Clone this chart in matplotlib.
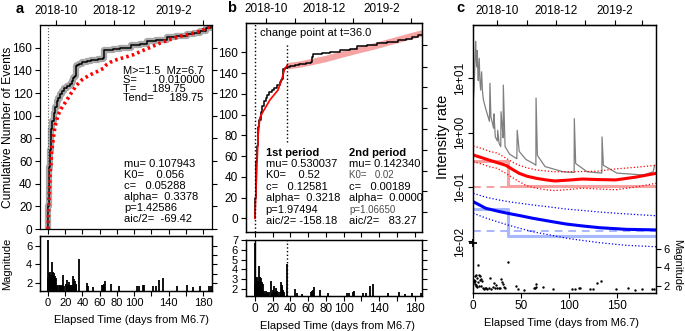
import matplotlib
matplotlib.use("Agg")
import matplotlib.pyplot as plt

plt.rcParams['font.family'] = ['Liberation Sans', 'DejaVu Sans']

W, H = 685, 331

# cumulative number of events (days from M6.7, count)
cum_days = [0, 0.3, 0.7, 1.2, 2.0, 3.0, 4.0, 5.0, 6.5, 8.0, 10, 12, 14, 16, 19, 22, 25, 28, 29.5, 30.5,
            31.5, 32.0, 34, 36, 40, 45, 50, 58, 63.5, 64.5, 65.5, 75, 84, 96, 107, 115, 126, 138, 149, 161,
            170, 177, 184, 189.75]
cum_counts = [0, 20, 38, 55, 70, 80, 88, 95, 102, 108, 113, 116, 119, 122, 124, 126, 128, 131, 133, 134,
              135, 144, 145, 146, 147, 148, 149, 150, 151, 155, 158, 159, 160, 162, 163, 166, 167, 169, 170, 172,
              173, 175, 177, 179]

# panel a: red dotted model curve
red_a_days = [0, 1, 2.3, 4.2, 6.2, 8, 10, 12, 16, 21.7, 27, 33.3, 40, 48.8, 56, 64.3, 68, 72, 80, 91.4,
              100, 106.8, 118, 130, 141, 153, 165, 176.5, 189.75]
red_a_counts = [0, 25, 46, 69, 80, 90, 96, 101, 107, 113.6, 120, 127, 132, 136, 138.5, 141.7, 145, 147, 149.5, 152,
                154, 156.4, 160, 164, 167, 170, 172, 174.5, 179]

# panel b: two-period fits
fit1_days = [0, 1.9, 3.7, 5.6, 9.3, 16.8, 26, 29.9, 33.6, 36]
fit1_counts = [0, 43, 81, 97, 103, 114, 123.6, 133, 144, 147]
fit2_days = [36, 50, 64, 80, 97, 115, 134, 153, 170, 189.75]
fit2_counts = [146.5, 148, 150.5, 153.5, 157.5, 161.5, 165.5, 170, 174, 178.5]
change_day = 36.0

# events: elapsed days and magnitudes
eq_days = [0, 0.3, 0.6, 1.0, 1.3, 1.7, 2.0, 2.4, 2.8, 3.2, 3.6, 4.0, 4.5, 5.0, 5.5, 6.0, 6.6, 7.2, 7.8, 8.5,
           9.3, 10.0, 11.0, 12.2, 13.5, 14.8, 16.0, 17.8, 19.0, 20.5, 21.7, 23.0, 24.0, 25.2, 26.5, 28.0, 29.4,
           30.3, 31.0, 32.0, 33.0, 36.0, 45.0, 47.0, 52.6, 63.0, 64.3, 65.2, 66.0, 73.2, 82.8, 103.7, 106.0,
           110.7, 112.0, 121.6, 125.4, 129.3, 133.0, 149.4, 161.8, 168.8, 176.5, 187.0, 189.0]
eq_mags = [6.7, 2.5, 2.4, 2.6, 3.1, 2.2, 2.5, 2.0, 3.2, 2.1, 2.8, 1.9, 2.4, 4.3, 2.0, 3.2, 2.6, 3.1, 2.0, 2.7,
           2.5, 1.8, 1.6, 1.8, 1.7, 1.6, 1.7, 2.8, 1.6, 1.9, 2.3, 1.7, 2.1, 1.8, 1.7, 1.7, 2.7,
           2.4, 2.2, 1.9, 1.7, 4.6, 2.0, 1.6, 1.5, 1.7, 1.8, 1.9, 2.2, 1.9, 1.6, 1.6, 1.6,
           1.7, 1.8, 1.6, 1.6, 2.3, 2.5, 1.6, 1.7, 1.5, 1.6, 1.6, 1.6]

# panel c: intensity rates
gray_days = [0.3, 1.0, 2.4, 3.0, 3.5, 4.2, 4.7, 5.2, 6.2, 6.9, 7.7, 8.7, 9.5, 10.5, 13.3, 16.9, 17.4, 18.4,
             21.2, 21.6, 23.0, 25.2, 25.5, 27.0, 28.7, 29.0, 30.4, 31.2, 31.4, 33.2, 38.0, 45.5, 45.9, 48.0,
             55.0, 62.9, 65.4, 65.6, 67.0, 75.0, 94.0, 105.4, 105.6, 107.0, 119.0, 134.4, 134.6, 136.0,
             150.0, 178.0, 188.0, 189.7]
gray_rates = [4.5, 8, 47, 25, 16, 32, 14, 9, 23, 9, 6, 13, 6, 4, 2.6, 1.6, 8, 1.95,
              1.2, 2.2, 0.83, 0.7, 1.1, 0.63, 0.55, 2.4, 1.2, 0.8, 7.4, 0.55, 0.4, 0.33, 1.1, 0.45,
              0.32, 0.27, 0.25, 4.3, 0.38, 0.237, 0.19, 0.185, 1.8, 0.27, 0.19, 0.18, 0.83, 0.25,
              0.18, 0.166, 0.19, 0.25]
red_c_days = [0, 10, 17, 25, 34, 42, 48, 56, 66, 76, 85, 100, 114, 130, 149, 170, 191]
red_c_mid = [0.386, 0.34, 0.31, 0.28, 0.25, 0.205, 0.178, 0.158, 0.144, 0.135, 0.129, 0.134, 0.14, 0.137,
             0.135, 0.152, 0.178]
red_c_up = [0.565, 0.5, 0.45, 0.42, 0.34, 0.28, 0.25, 0.225, 0.205, 0.197, 0.19, 0.19, 0.192, 0.195,
            0.215, 0.23, 0.25]
red_c_lo = [0.29, 0.26, 0.235, 0.22, 0.178, 0.145, 0.125, 0.105, 0.095, 0.089, 0.086, 0.09, 0.095, 0.092,
            0.089, 0.1, 0.117]
blue_days = [0, 13, 27, 36, 50, 62, 80, 97, 115, 132, 160, 191]
blue_mid = [0.0537, 0.0407, 0.0355, 0.0329, 0.0295, 0.0267, 0.0235, 0.0209, 0.0192, 0.0179, 0.0167, 0.0163]
blue_up = [0.0766, 0.065, 0.0577, 0.054, 0.05, 0.0468, 0.043, 0.0394, 0.037, 0.0347, 0.032, 0.0297]
blue_lo = [0.0329, 0.027, 0.0225, 0.0201, 0.0172, 0.0151, 0.0132, 0.0115, 0.0104, 0.0095, 0.0085, 0.008]
period_edges = [0, 36, 191]
red_period = [0.304, 0.105]
blue_period = [0.0394, 0.0128]
red_const = 0.101
blue_const = 0.0156

# date axis on top
top_ticks_a = [9.3, 43.0, 77.0, 111.8, 146.3, 180.4]
top_ticks_b = [12.3, 44.8, 78.4, 110.9, 143.3, 175.8]
top_ticks_c = [25, 56, 86, 117, 148, 176]
top_labels = ["2018-10", "", "2018-12", "", "2019-2", ""]
right_ticks_b = [6, 26, 46, 66, 86, 106, 127, 146, 167]
day_ticks = list(range(0, 181, 20))
day_labels = ["0", "20", "40", "60", "80", "100", "", "140", "", "180"]

stats_a1 = ["M>=1.5  Mz=6.7", "S=       0.010000", "T=     189.75", "Tend=     189.75"]
stats_a2 = ["mu= 0.107943", "K0=    0.056", "c=   0.05288", "alpha=  0.3378", "p=1.42586", "aic/2=  -69.42"]
stats_b1 = ["mu= 0.530037", "K0=    0.52", "c=   0.12581", "alpha=  0.3218", "p=1.97494", "aic/2= -158.18"]
stats_b2 = ["mu= 0.142340", "K0=   0.02", "c=   0.00189", "alpha=  0.0000", "p=1.06650", "aic/2=   83.27"]

fig = plt.figure(figsize=(W / 100, H / 100), dpi=100)


def px_axes(l, t, r, b):
    return fig.add_axes([l / W, 1 - b / H, (r - l) / W, (b - t) / H])


def ptext(x, y, s, **kw):
    kw.setdefault("va", "center")
    kw.setdefault("ha", "left")
    kw.setdefault("fontsize", 8)
    fig.text(x / W, 1 - y / H, s, **kw)


def style(ax):
    ax.tick_params(direction="out", length=3.5, width=0.8, labelsize=8.5, pad=2)
    for sp in ax.spines.values():
        sp.set_linewidth(0.9)


def top_axis(ax, ticks):
    sec = ax.secondary_xaxis("top")
    sec.set_xticks(ticks, labels=top_labels)
    sec.tick_params(direction="out", length=3.5, width=0.8, labelsize=8.5, pad=2)


# ---------- panel a ----------
axa = px_axes(40, 25, 212, 229)
style(axa)
axa.set_xlim(-9.3, 190.5)
axa.set_ylim(0, 180)
axa.plot(cum_days, cum_counts, color="0.6", lw=4.5, alpha=0.85, drawstyle="steps-post", solid_capstyle="butt")
axa.plot(cum_days, cum_counts, color="black", lw=1.1, drawstyle="steps-post")
axa.plot(red_a_days, red_a_counts, color="red", lw=2.6, ls=(0, (0.7, 0.9)))
axa.axvline(0, color="0.35", ls=":", lw=0.8)
axa.set_yticks(range(0, 161, 20))
axa.set_xticks(day_ticks)
axa.tick_params(labelbottom=False, right=True)
top_axis(axa, top_ticks_a)

axam = px_axes(40, 236, 212, 290.7)
style(axam)
axam.set_xlim(-9.3, 190.5)
axam.set_ylim(1.13, 7.09)
axam.vlines(eq_days, 1.13, eq_mags, color="black", lw=1.3)
axam.set_yticks([2, 4, 6])
axam.set_xticks(day_ticks, labels=day_labels)
axam.tick_params(labelsize=8)
ra = axam.twinx()
style(ra)
ra.set_ylim(1.13, 7.09)
ra.set_yticks([2, 3, 4, 5, 6], labels=[])

ptext(20, 9, "a", fontsize=10.5, fontweight="bold", ha="center")
ptext(8, 127, "Cumulative Number of Events", rotation=90, ha="center", fontsize=8.7)
ptext(7, 264, "Magnitude", rotation=90, ha="center", fontsize=8)
ptext(131.7, 320, "Elapsed Time (days from M6.7)", ha="center", fontsize=8)
for i, s in enumerate(stats_a1):
    ptext(122.7, 70.7 + 9.1 * i, s)
for i, s in enumerate(stats_a2):
    ptext(124, 164 + 11 * i, s)

# ---------- panel b ----------
axb = px_axes(245.7, 22.7, 422.3, 232.3)
style(axb)
axb.set_xlim(-10.4, 188.5)
axb.set_ylim(-13.5, 188.5)
axb.plot(fit2_days, fit2_counts, color="#f6a3a3", lw=4.5, solid_capstyle="butt")
axb.plot(cum_days, cum_counts, color="black", lw=1.1, drawstyle="steps-post")
axb.plot(fit1_days, fit1_counts, color="red", lw=1.2)
axb.axvline(0, color="black", ls=":", lw=1.0)
axb.vlines(change_day, 74, 169, color="black", ls=":", lw=1.0)
axb.set_yticks(range(0, 161, 20))
axb.set_xticks(day_ticks, labels=[])
top_axis(axb, top_ticks_b)
rb = axb.twinx()
style(rb)
rb.set_ylim(-13.5, 188.5)
rb.set_yticks(right_ticks_b, labels=[])

axbm = px_axes(245.7, 240, 422.3, 295.7)
style(axbm)
axbm.set_xlim(-10.4, 188.5)
axbm.set_ylim(1.32, 7.0)
axbm.vlines(eq_days, 1.32, eq_mags, color="black", lw=1.3)
axbm.axvline(0, color="black", lw=1.0)
axbm.axvline(change_day, color="black", ls=":", lw=1.0)
axbm.set_yticks(range(2, 8))
axbm.set_xticks(day_ticks, labels=day_labels)
axbm.tick_params(axis="y", labelsize=8)
rbm = axbm.twinx()
style(rbm)
rbm.set_ylim(1.32, 7.0)
rbm.set_yticks(range(2, 8), labels=[])

ptext(232, 8, "b", fontsize=10.5, fontweight="bold", ha="center")
ptext(338, 325.7, "Elapsed Time (days from M6.7)", ha="center", fontsize=8)
ptext(260, 33.3, "change point at t=36.0", fontsize=8)
ptext(265.7, 152.7, "1st period", fontweight="bold")
ptext(349, 152.7, "2nd period", fontweight="bold")
for i, (s1, s2) in enumerate(zip(stats_b1, stats_b2)):
    y = 164 + 11.5 * i
    ptext(265.7, y, s1)
    if s2.startswith("K0") or s2.startswith("p="):
        ptext(349, y, s2, fontsize=7, color="0.3")
    else:
        ptext(349, y, s2)

# ---------- panel c ----------
axc = px_axes(473.3, 25, 656, 292.7)
style(axc)
axc.set_yscale("log")
axc.set_xlim(0, 191)
axc.set_ylim(10 ** -2.94, 10 ** 1.973)
axc.plot(gray_days, gray_rates, color="0.5", lw=0.9)
axc.step(period_edges, red_period + [red_period[-1]], where="post", color="#f7a0a0", lw=2.2)
axc.step(period_edges, blue_period + [blue_period[-1]], where="post", color="#a8b8ff", lw=2.2)
axc.axhline(red_const, color="#f7a0a0", ls=(0, (4, 3)), lw=1.4)
axc.axhline(blue_const, color="#a8b8ff", ls=(0, (4, 3)), lw=1.4)
axc.plot(red_c_days, red_c_mid, color="red", lw=2.2)
axc.plot(red_c_days, red_c_up, color="red", lw=0.9, ls=":")
axc.plot(red_c_days, red_c_lo, color="red", lw=0.9, ls=":")
axc.plot(blue_days, blue_mid, color="blue", lw=2.2)
axc.plot(blue_days, blue_up, color="blue", lw=0.9, ls=":")
axc.plot(blue_days, blue_lo, color="blue", lw=0.9, ls=":")
axc.set_yticks([1e-2, 1e-1, 1, 10], labels=["1e-02", "1e-01", "1e+00", "1e+01"])
axc.minorticks_off()
for lab in axc.get_yticklabels():
    lab.set_rotation(90)
    lab.set_va("center")
axc.set_xticks([0, 50, 100, 150])
top_axis(axc, top_ticks_c)

axc2 = axc.twinx()
style(axc2)
axc2.set_ylim(1.23, 30.6)
axc2.scatter(eq_days[1:], eq_mags[1:], s=3, color="black", linewidths=0)
axc2.plot(eq_days[0], eq_mags[0], marker="+", color="black", ms=6, mew=1.3, clip_on=False)
axc2.set_yticks([2, 4, 6])
axc2.tick_params(labelsize=8)

ptext(460, 8, "c", fontsize=10.5, fontweight="bold", ha="center")
ptext(443, 137, "Intensity rate", rotation=90, ha="center", fontsize=10.5)
ptext(677, 265, "Magnitude", rotation=-90, ha="center", fontsize=8)
ptext(561.7, 323, "Elapsed Time (days from M6.7)", ha="center", fontsize=8)

fig.savefig("out.png", dpi=100)
